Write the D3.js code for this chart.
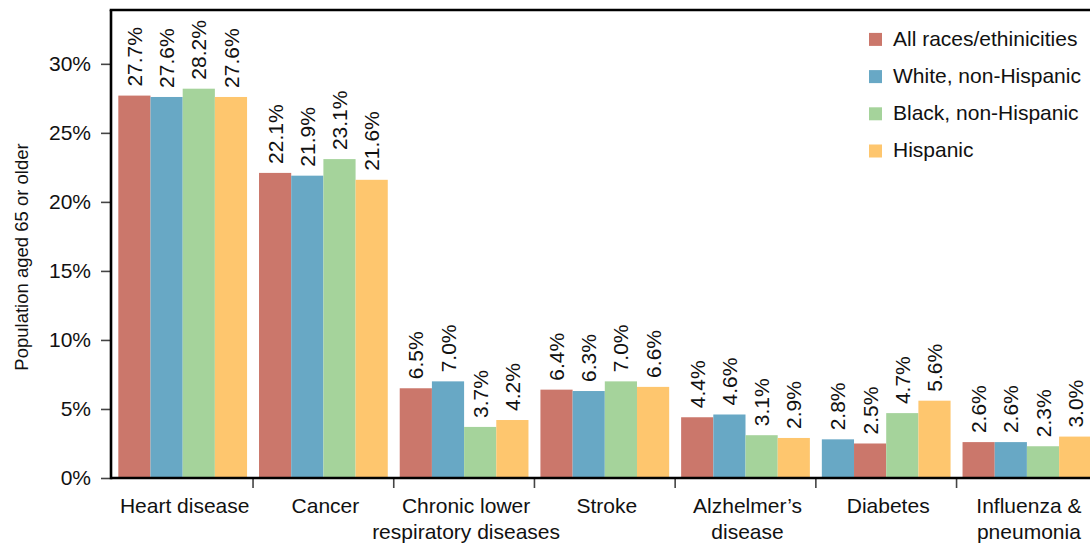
<!DOCTYPE html>
<html>
<head>
<meta charset="utf-8">
<script src="https://cdn.jsdelivr.net/npm/d3@7"></script>
<style>
  html, body { margin: 0; padding: 0; background: #fff; }
  svg { display: block; font-family: "Liberation Sans", Arial, Helvetica, sans-serif; }
</style>
</head>
<body>
<svg id="chart" width="1090" height="546"></svg>
<script>
// Leading causes of death, population aged 65 or older, by race/ethnicity
const categories = [
  "Heart disease",
  "Cancer",
  "Chronic lower\nrespiratory diseases",
  "Stroke",
  "Alzhelmer’s\ndisease",
  "Diabetes",
  "Influenza &\npneumonia"
];
const seriesNames = ["All races/ethinicities", "White, non-Hispanic", "Black, non-Hispanic", "Hispanic"];
const allRaces = [27.7, 22.1, 6.5, 6.4, 4.4, 2.5, 2.6];
const whiteNH  = [27.6, 21.9, 7.0, 6.3, 4.6, 2.8, 2.6];
const blackNH  = [28.2, 23.1, 3.7, 7.0, 3.1, 4.7, 2.3];
const hispanic = [27.6, 21.6, 4.2, 6.6, 2.9, 5.6, 3.0];
// order in which the series are placed inside each group
const groupOrder = [
  [0, 1, 2, 3], [0, 1, 2, 3], [0, 1, 2, 3], [0, 1, 2, 3],
  [0, 1, 2, 3], [1, 0, 2, 3], [0, 1, 2, 3]
];
const yTicks = [0, 5, 10, 15, 20, 25, 30];

const seriesValues = [allRaces, whiteNH, blackNH, hispanic];
const colors = ["#cb776b", "#68a8c5", "#a5d39b", "#fec66e"];

const svg = d3.select("#chart");
const plotLeft = 111, plotBottom = 478, plotTop = 10, plotRight = 1090;

const y = d3.scaleLinear().domain([0, 33.9]).range([plotBottom, plotTop]);
const x = d3.scaleBand().domain(d3.range(categories.length))
  .range([plotLeft, 1098.6]).paddingInner(0.085).paddingOuter(0.052);
const xInner = d3.scaleBand().domain(d3.range(4)).range([0, x.bandwidth()]);

// bars
const bars = [];
categories.forEach((c, i) => {
  groupOrder[i].forEach((s, pos) => {
    bars.push({ cat: i, series: s, pos: pos, value: seriesValues[s][i] });
  });
});

const g = svg.append("g");
g.selectAll("rect.bar").data(bars).join("rect")
  .attr("class", "bar")
  .attr("x", d => x(d.cat) + xInner(d.pos))
  .attr("width", xInner.bandwidth())
  .attr("y", d => y(d.value))
  .attr("height", d => y(0) - y(d.value))
  .attr("fill", d => colors[d.series]);

// value labels, rotated above each bar
g.selectAll("text.val").data(bars).join("text")
  .attr("class", "val")
  .attr("transform", d => `translate(${x(d.cat) + xInner(d.pos) + xInner.bandwidth() / 2},${y(d.value) - 9}) rotate(-90)`)
  .attr("dy", "0.36em")
  .attr("font-size", 21)
  .attr("fill", "#111")
  .text(d => d.value.toFixed(1) + "%");

// y axis
const yAxis = svg.append("g")
  .attr("transform", `translate(${plotLeft},0)`)
  .call(d3.axisLeft(y).tickValues(yTicks).tickSize(10).tickPadding(10).tickFormat(d => d + "%"));
yAxis.select(".domain").remove();
yAxis.selectAll(".tick line").attr("stroke", "#444").attr("stroke-width", 1.6);
yAxis.selectAll(".tick text").attr("font-size", 21).attr("fill", "#111")
  .attr("font-family", "Liberation Sans, Arial, sans-serif");

// group separator ticks on the category axis
const step = x.step();
const boundaries = d3.range(1, categories.length + 1).map(i => x(i - 1) + x.bandwidth() + step * x.paddingInner() / 2);
svg.selectAll("line.xtick").data(boundaries).join("line")
  .attr("class", "xtick")
  .attr("x1", d => d).attr("x2", d => d)
  .attr("y1", plotBottom).attr("y2", plotBottom + 10)
  .attr("stroke", "#444").attr("stroke-width", 1.6);

// frame lines
svg.append("line").attr("x1", plotLeft).attr("x2", plotRight).attr("y1", plotBottom).attr("y2", plotBottom)
  .attr("stroke", "#000").attr("stroke-width", 2.6);
svg.append("line").attr("x1", plotLeft).attr("x2", plotLeft).attr("y1", plotTop).attr("y2", plotBottom + 1.3)
  .attr("stroke", "#000").attr("stroke-width", 2.6);
svg.append("line").attr("x1", plotLeft - 1.3).attr("x2", plotRight).attr("y1", plotTop).attr("y2", plotTop)
  .attr("stroke", "#000").attr("stroke-width", 2.6);

// category labels
const catLabels = svg.selectAll("text.cat").data(categories).join("text")
  .attr("class", "cat")
  .attr("text-anchor", "middle")
  .attr("font-size", 21)
  .attr("fill", "#111");
catLabels.each(function (d, i) {
  const t = d3.select(this);
  d.split("\n").forEach((line, k) => {
    t.append("tspan")
      .attr("x", x(i) + x.bandwidth() / 2 + 2)
      .attr("y", 513 + k * 26)
      .text(line);
  });
});

// y axis title
svg.append("text")
  .attr("transform", `translate(21,257) rotate(-90)`)
  .attr("text-anchor", "middle")
  .attr("dy", "0.36em")
  .attr("font-size", 18.5)
  .attr("fill", "#111")
  .text("Population aged 65 or older");

// legend
const legend = svg.append("g").attr("transform", "translate(869,0)");
const rows = legend.selectAll("g").data(seriesNames).join("g")
  .attr("transform", (d, i) => `translate(0,${45.7 + i * 37.2})`);
rows.append("rect").attr("x", 0).attr("y", -12.8).attr("width", 13).attr("height", 13)
  .attr("fill", (d, i) => colors[i]);
rows.append("text").attr("x", 24).attr("y", 0)
  .attr("font-size", 21).attr("fill", "#111")
  .text(d => d);
</script>
</body>
</html>
